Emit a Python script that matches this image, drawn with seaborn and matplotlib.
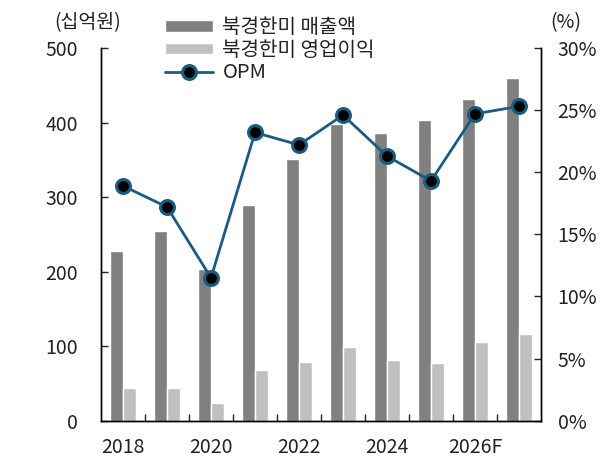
import numpy as np
import pandas as pd
import seaborn as sns
import matplotlib.pyplot as plt
from matplotlib.patches import Patch
from matplotlib.lines import Line2D

years = ['2018', '2019', '2020', '2021', '2022', '2023', '2024', '2025', '2026F', '2027F']
revenue = [228, 255, 204, 290, 351, 398, 386, 403, 431, 460]
op_profit = [43.5, 44, 24, 68, 79, 98.5, 82, 77, 106, 116.5]
opm = [18.9, 17.2, 11.5, 23.2, 22.2, 24.6, 21.3, 19.3, 24.7, 25.3]
tick_years = ['2018', '2020', '2022', '2024', '2026F']

sns.set_style('white')
plt.rcParams['font.family'] = ['Noto Sans CJK KR', 'DejaVu Sans']

rev_lbl = '북경한미 매출액'
op_lbl = '북경한미 영업이익'
df = pd.DataFrame({
    'year': years * 2,
    'value': revenue + op_profit,
    'series': [rev_lbl] * len(years) + [op_lbl] * len(years),
})

fig = plt.figure(figsize=(6.16, 4.57), dpi=100)
ax = fig.add_axes([101/616, 1 - 420.7/457, 440/616, 372.7/457])
sns.barplot(data=df, x='year', y='value', hue='series', order=years,
            palette=['#808080', '#c0c0c0'], width=0.58, gap=0,
            saturation=1, legend=False, ax=ax)

ax2 = ax.twinx()
line_col = '#1a5b82'
ax2.plot(np.arange(len(years)), opm, color=line_col, lw=2, marker='o',
         markersize=10, markerfacecolor='black', markeredgecolor=line_col,
         markeredgewidth=2.2, zorder=5)

ax.set_xlim(-0.5, len(years) - 0.5)
ax.set_ylim(0, 500)
ax2.set_ylim(0, 30)
ax.set_xlabel('')
ax.set_ylabel('')

fs = 14
tc = '#222222'
ax.set_yticks(range(0, 501, 100))
ax.tick_params(axis='y', direction='in', length=5, width=1, pad=16.5,
               labelsize=fs, labelcolor=tc, left=True)
ax2.set_yticks(range(0, 31, 5))
ax2.set_yticklabels([f'{v}%' for v in range(0, 31, 5)])
ax2.tick_params(axis='y', direction='in', length=5, width=1, pad=12,
                labelsize=fs, labelcolor=tc, right=True)

# boundary ticks without labels, labels at every other category
ax.set_xticks(np.arange(0.5, len(years) - 1, 1))
ax.set_xticklabels([])
ax.tick_params(axis='x', which='major', direction='in', length=5, width=1, bottom=True)
ax.set_xticks([years.index(y) for y in tick_years], minor=True)
ax.set_xticklabels(tick_years, minor=True)
ax.tick_params(axis='x', which='minor', length=0, pad=12, labelsize=fs, labelcolor=tc)

for a in (ax, ax2):
    a.spines['top'].set_visible(False)
    for s in ('left', 'right', 'bottom'):
        a.spines[s].set_color('black')
        a.spines[s].set_linewidth(1)

handles = [
    Patch(facecolor='#808080', label=rev_lbl),
    Patch(facecolor='#c0c0c0', label=op_lbl),
    Line2D([0], [0], color=line_col, lw=2, marker='o', markersize=10,
           markerfacecolor='black', markeredgecolor=line_col,
           markeredgewidth=2.2, label='OPM'),
]
fig.legend(handles=handles, loc='upper left', bbox_to_anchor=(165/616, 1 - 17/457),
           frameon=False, fontsize=14.5, borderpad=0, borderaxespad=0,
           handlelength=2.4, handleheight=0.5, handletextpad=0.45,
           labelspacing=0.08, labelcolor=tc)

fig.text(88/616, 1 - 23/457, '(십억원)', ha='center', va='center', fontsize=fs, color=tc)
fig.text(566/616, 1 - 23/457, '(%)', ha='center', va='center', fontsize=fs, color=tc)

fig.savefig('out.png', dpi=100)
